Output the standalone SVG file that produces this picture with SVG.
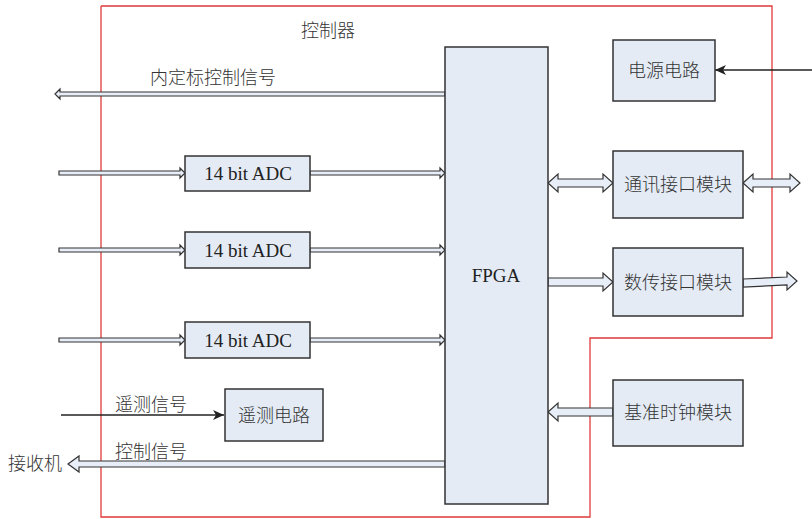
<svg xmlns="http://www.w3.org/2000/svg" width="812" height="519" viewBox="0 0 812 519">
<defs>
<style>
.box{fill:#e4ebf5;stroke:#333;stroke-width:1.5}
.arr{fill:#e8eef8;stroke:#333;stroke-width:1.2;stroke-linejoin:miter}
.cn{font-family:"Noto Sans CJK SC","Noto Sans",sans-serif;font-size:18px;font-weight:300;fill:#333}
.en{font-family:"Liberation Serif",serif;font-size:19px;fill:#222}
.line{stroke:#222;stroke-width:1.3;fill:none}
</style>
<marker id="tri" markerWidth="12" markerHeight="10" refX="11" refY="5" orient="auto" markerUnits="userSpaceOnUse">
<path d="M0,0 L11,5 L0,10 L3,5 Z" fill="#222"/>
</marker>
</defs>
<rect width="812" height="519" fill="#fff"/>
<polyline points="101,6 772,6 772,338 590,338 590,517 101,517 101,6" fill="none" stroke="#e03a3a" stroke-width="1.3"/>
<text class="cn" x="328" y="37" text-anchor="middle">控制器</text>

<g id="connectors">
<polygon class="arr" points="445,92 60,92 60,89 55,94 60,99 60,96 445,96"/>
<polygon class="arr" points="59,171 180,171 180,168 185,173 180,178 180,175 59,175"/>
<polygon class="arr" points="310,171 440,171 440,168 445,173 440,178 440,175 310,175"/>
<polygon class="arr" points="59,248 180,248 180,245 185,250 180,255 180,252 59,252"/>
<polygon class="arr" points="310,248 440,248 440,245 445,250 440,255 440,252 310,252"/>
<polygon class="arr" points="59,338 180,338 180,335 185,340 180,345 180,342 59,342"/>
<polygon class="arr" points="310,338 440,338 440,335 445,340 440,345 440,342 310,342"/>
<line class="line" x1="61" y1="415" x2="224" y2="415" marker-end="url(#tri)"/>
<polygon class="arr" points="445,461 79,461 79,456 68,464 79,472 79,467 445,467"/>
<line class="line" x1="812" y1="70" x2="715" y2="70" marker-end="url(#tri)"/>
<polygon class="arr" points="548,183 558,174 558,179 603,179 603,174 613,183 603,192 603,187 558,187 558,192"/>
<polygon class="arr" points="743,183 753,174 753,179 790,179 790,174 800,183 790,192 790,187 753,187 753,192"/>
<polygon class="arr" points="548,278 603,278 603,273 613,282 603,291 603,286 548,286"/>
<polygon class="arr" points="743,279 787,277 787,272 797,281 787,290 787,285 743,287"/>
<polygon class="arr" points="613,408 558,408 558,403 548,412 558,421 558,416 613,416"/>
</g>
<text class="cn" x="213" y="84" text-anchor="middle">内定标控制信号</text>
<text class="cn" x="151" y="411" text-anchor="middle">遥测信号</text>
<text class="cn" x="151" y="458" text-anchor="middle">控制信号</text>
<text class="cn" x="35" y="470" text-anchor="middle">接收机</text>

<g id="fpga"><rect class="box" x="445" y="47" width="103" height="457"/><text class="en" x="496" y="282" text-anchor="middle">FPGA</text></g>
<g id="adc1"><rect class="box" x="185" y="156" width="125" height="35"/><text class="en" x="248" y="180" text-anchor="middle">14 bit ADC</text></g>
<g id="adc2"><rect class="box" x="185" y="232" width="125" height="36"/><text class="en" x="248" y="257" text-anchor="middle">14 bit ADC</text></g>
<g id="adc3"><rect class="box" x="185" y="322" width="125" height="36"/><text class="en" x="248" y="347" text-anchor="middle">14 bit ADC</text></g>
<g id="telemetry"><rect class="box" x="225" y="389" width="98" height="52"/><text class="cn" x="274" y="422" text-anchor="middle">遥测电路</text></g>
<g id="power"><rect class="box" x="613" y="40" width="102" height="61"/><text class="cn" x="664" y="77" text-anchor="middle">电源电路</text></g>
<g id="comm"><rect class="box" x="613" y="151" width="130" height="67"/><text class="cn" x="678" y="191" text-anchor="middle">通讯接口模块</text></g>
<g id="datatx"><rect class="box" x="613" y="248" width="130" height="68"/><text class="cn" x="678" y="289" text-anchor="middle">数传接口模块</text></g>
<g id="clock"><rect class="box" x="613" y="380" width="130" height="66"/><text class="cn" x="678" y="419" text-anchor="middle">基准时钟模块</text></g>
</svg>
